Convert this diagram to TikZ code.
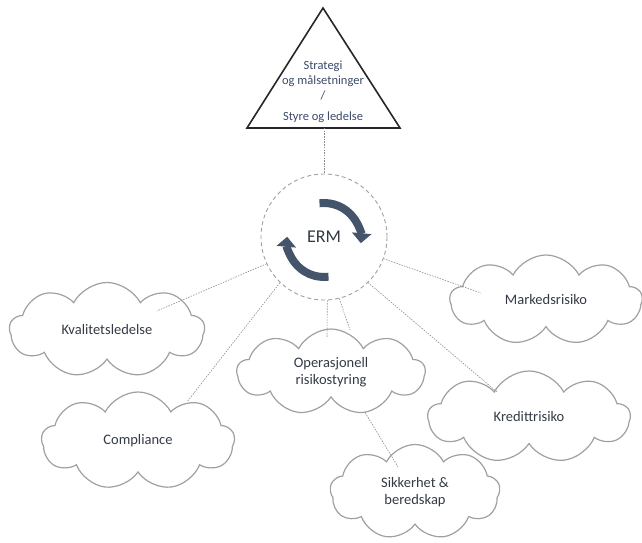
\documentclass[tikz,border=0pt]{standalone}
\usepackage{fontspec}
\setmainfont{Carlito}
\usetikzlibrary{shapes.symbols, arrows.meta}

\definecolor{slate}{HTML}{44546A}
\definecolor{textblue}{HTML}{3B4A68}
\definecolor{darktext}{HTML}{333A45}
\definecolor{cloudgray}{HTML}{A0A0A0}
\definecolor{linegray}{HTML}{8C8C8C}

\tikzset{
	riskcloud/.style={cloud, cloud puffs=9, cloud puff arc=125, cloud ignores aspect,
		draw=cloudgray, line width=1.2pt, inner sep=0pt, align=center,
		text=darktext, font=\fontsize{14.5}{17.5}\selectfont},
	link/.style={draw=linegray, dash pattern=on 1.5pt off 1.2pt, line width=0.6pt},
	turn/.style={slate, line width=8pt, -{Triangle[width=19pt,length=10pt]}}
}

\begin{document}
\begin{tikzpicture}[x=1pt,y=1pt]
			\def\ex{324};
			\def\ey{306};
			\def\R{63};
			\def\r{37};

			\useasboundingbox (0,0) rectangle (642,543);

			% triangle on top
			\draw [line width=1.6pt, draw=black!85] (323,535) -- (400,415) -- (247,415) -- cycle;
			\node [text=textblue, align=center, font=\fontsize{12.5}{15}\selectfont] (goals) at (323,451)
				{Strategi\\og målsetninger\\/\\[6pt]Styre og ledelse};
			\coordinate (base) at (\ex,415);

			% ERM ring with the two turning arrows
			\node [circle, draw=cloudgray, dash pattern=on 4pt off 3pt, line width=0.9pt,
				minimum size=2*\R, inner sep=0pt, text=darktext, font=\fontsize{18}{20}\selectfont] (erm) at (\ex,\ey) {ERM};
			\begin{scope}[shift={(\ex,\ey-3)}]
				\draw [turn] (97:\r) arc [start angle=97, end angle=-5, radius=\r];
				\draw [turn] (277:\r) arc [start angle=277, end angle=175, radius=\r];
			\end{scope}

			% risk areas
			\node [riskcloud, minimum width=195, minimum height=95] (kval) at (107,213) {Kvalitetsledelse};
			\node [riskcloud, minimum width=193, minimum height=98] (compl) at (138,102) {Compliance};
			\node [riskcloud, minimum width=188, minimum height=86] (oper) at (331,171) {Operasjonell\\risikostyring};
			\node [riskcloud, minimum width=192, minimum height=90] (marked) at (546,243) {Markedsrisiko};
			\node [riskcloud, minimum width=202, minimum height=92] (kreditt) at (529,126) {Kredittrisiko};
			\node [riskcloud, minimum width=170, minimum height=95] (sikker) at (415,51) {Sikkerhet \&\\beredskap};

			% where the links end inside the clouds
			\coordinate (kvalIn) at (157,232);
			\coordinate (complIn) at (187,141);
			\coordinate (operInA) at (327,205);
			\coordinate (operInB) at (350,213);
			\coordinate (kredittIn) at (497,151);
			\coordinate (markedIn) at (481,250);
			\coordinate (sikkerIn) at (398,76);

			\draw [link] (base) -- (erm.north);
			\draw [link] (erm.205) -- (kvalIn);
			\draw [link] (erm.226) -- (complIn);
			\draw [link] (erm.273) -- (operInA);
			\draw [link] (erm.284) -- (operInB);
			\draw [link] (erm.314) -- (kredittIn);
			\draw [link] (erm.340) -- (markedIn);
			\draw [link] (oper.-50) -- (sikkerIn);
		\end{tikzpicture}
\end{document}
